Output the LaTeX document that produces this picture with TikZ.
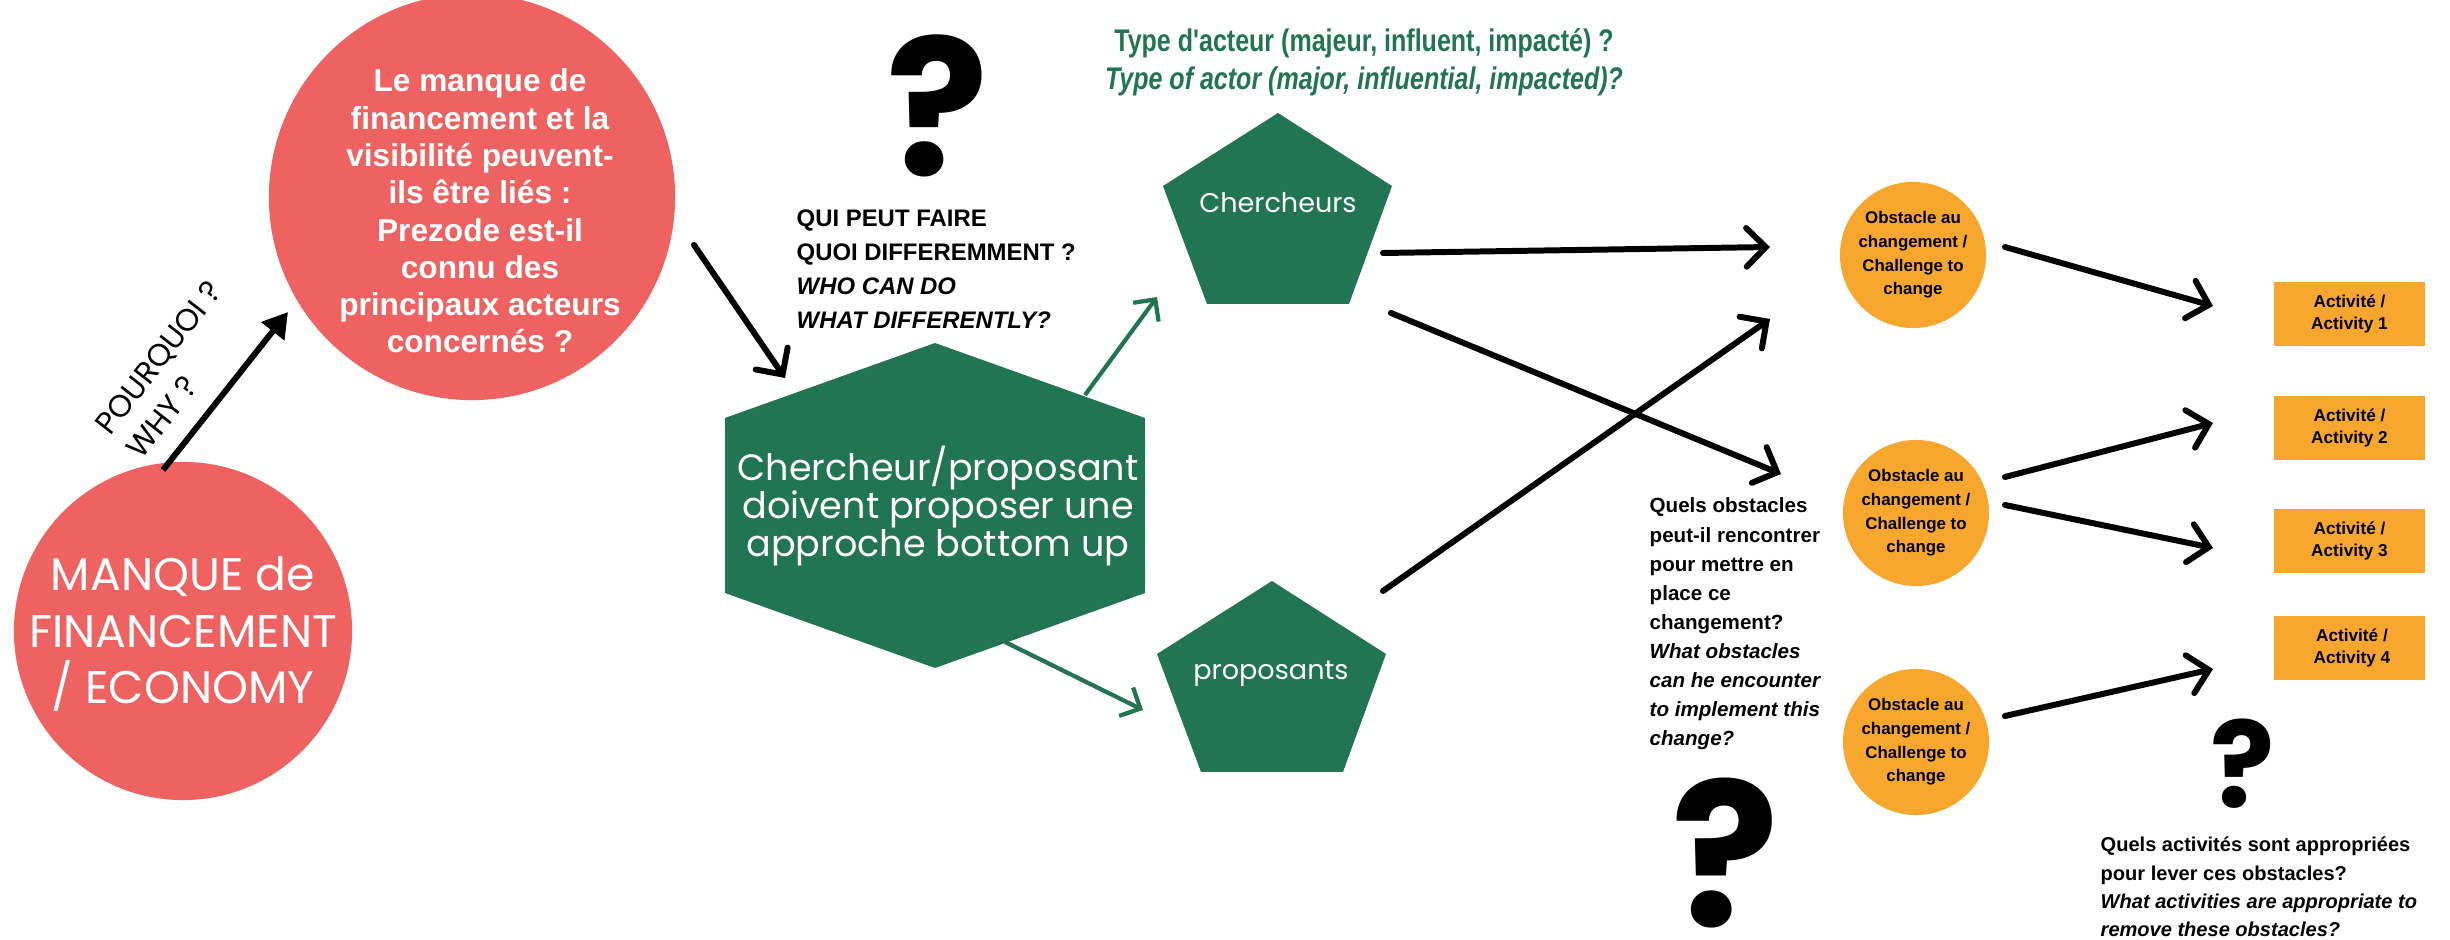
\documentclass[tikz,border=0pt]{standalone}
\usepackage{fontspec}
\setmainfont{Liberation Sans}
\newfontfamily\gothic{Poppins}
\newfontfamily\narrowfont[FakeStretch=0.8]{Liberation Sans}
\usetikzlibrary{arrows.meta}
\definecolor{cred}{RGB}{238,98,98}
\definecolor{cgreen}{RGB}{33,117,82}
\definecolor{corange}{RGB}{247,166,46}
\newcommand\cblock[2]{\vtop{\baselineskip=#1\lineskiplimit=-100pt\lineskip=0pt\halign{\hfil##\hfil\cr#2\crcr}}}
\newcommand\lblock[2]{\vtop{\baselineskip=#1\lineskiplimit=-100pt\lineskip=0pt\halign{##\hfil\cr#2\crcr}}}
\begin{document}
\begin{tikzpicture}[x=0.01cm,y=-0.01cm,
  blackarrow/.style={line width=1.7pt,line cap=round,-{Straight Barb[length=5.5pt,width=11pt,line cap=round]}},
  greenarrow/.style={line width=1.2pt,draw=cgreen,-{Straight Barb[length=4.5pt,width=9pt]}},
  whyarrow/.style={line width=1.7pt,-{Triangle[length=7pt,width=8pt]}},
  obst/.style={circle,fill=corange,minimum size=1.46cm,inner sep=0pt,font=\bfseries\fontsize{4.8}{6.7}\selectfont},
  actbox/.style={rectangle,fill=corange,minimum width=1.51cm,minimum height=0.64cm,inner sep=0pt,font=\bfseries\fontsize{4.9}{6.5}\selectfont},
  qmark/.style={inner sep=0pt,font=\gothic\bfseries\fontsize{#1}{#1}\selectfont},
  gtext/.style={text=white,inner sep=0pt,font=\gothic\fontsize{#1}{#1}\selectfont}
]
\useasboundingbox (0,0) rectangle (2450,940);

% red circles
\node[circle,fill=cred,minimum size=4.06cm,inner sep=0pt] (lm) at (472,197) {};
\node[anchor=base,text=white,inner sep=0pt,font=\bfseries\fontsize{9}{10.6}\selectfont] (lmt) at (480,92)
  {\cblock{10.6pt}{Le manque de\cr financement et la\cr visibilité peuvent-\cr ils être liés :\cr Prezode est-il\cr connu des\cr principaux acteurs\cr concernés ?}};
\node[circle,fill=cred,minimum size=3.38cm,inner sep=0pt] (mf) at (183,631) {};
\node[anchor=base,gtext=13] (mft) at (183,591) {\cblock{16pt}{MANQUE de\cr FINANCEMENT\cr / ECONOMY}};

% why arrow and label
\coordinate (w1) at (163,470);
\coordinate (w2) at (288,312);
\draw[whyarrow] (w1) -- (w2);
\node[anchor=base west,inner sep=0pt,rotate=52,font=\gothic\fontsize{8.8}{11.3}\selectfont] (why) at (110,437)
  {\lblock{11.3pt}{POURQUOI ?\cr WHY ?}};

% arrow to hexagon
\coordinate (h1) at (694,245);
\coordinate (h2) at (785,378);
\draw[blackarrow] (h1) -- (h2);

% hexagon
\fill[cgreen] (935,343) -- (1145,418) -- (1145,593) -- (935,668) -- (725,593) -- (725,418) -- cycle;
\node[anchor=base,gtext=10.4] (hex) at (938,481) {\cblock{10.7pt}{Chercheur/proposant\cr doivent proposer une\cr approche bottom up}};

% question text
\node[anchor=base west,inner sep=0pt,font=\bfseries\fontsize{6.8}{9.6}\selectfont] (qui) at (796,227)
  {\lblock{9.6pt}{QUI PEUT FAIRE\cr QUOI DIFFEREMMENT ?\cr \itshape WHO CAN DO\cr \itshape WHAT DIFFERENTLY?}};

% question marks
\node[qmark=54] (q1) at (938,106) {?};
\node[qmark=57] (q2) at (1725,853) {?};
\node[qmark=34] (q3) at (2243,764) {?};

% type d'acteur
\node[anchor=base,inner sep=0pt,text=cgreen,font=\narrowfont\bfseries\fontsize{8.9}{10.6}\selectfont] (typ) at (1364,52)
  {\cblock{10.6pt}{Type d'acteur (majeur, influent, impacté) ?\cr \itshape Type of actor (major, influential, impacted)?}};

% pentagons
\fill[cgreen] (1278,113) -- (1392,186) -- (1349,304) -- (1207,304) -- (1163,186) -- cycle;
\node[anchor=base,gtext=7.7] (ch) at (1278,213) {Chercheurs};
\fill[cgreen] (1272,581) -- (1386,654) -- (1343,772) -- (1201,772) -- (1157,654) -- cycle;
\node[anchor=base,gtext=7.7] (pr) at (1271,680) {proposants};

% green arrows
\coordinate (g1a) at (1085,395);
\coordinate (g1b) at (1157,297);
\coordinate (g2a) at (1005,642);
\coordinate (g2b) at (1143,710);
\draw[greenarrow] (g1a) -- (g1b);
\draw[greenarrow] (g2a) -- (g2b);

% obstacles
\node[obst] (ob1) at (1913,255) {\cblock{6.7pt}{Obstacle au\cr changement /\cr Challenge to\cr change}};
\node[obst] (ob2) at (1916,513) {\cblock{6.7pt}{Obstacle au\cr changement /\cr Challenge to\cr change}};
\node[obst] (ob3) at (1916,742) {\cblock{6.7pt}{Obstacle au\cr changement /\cr Challenge to\cr change}};

% activities
\node[actbox] (a1) at (2349.5,314) {\cblock{6.5pt}{Activité /\cr Activity 1}};
\node[actbox] (a2) at (2349.5,428) {\cblock{6.5pt}{Activité /\cr Activity 2}};
\node[actbox] (a3) at (2349.5,541) {\cblock{6.5pt}{Activité /\cr Activity 3}};
\node[actbox] (a4) at (2349.5,648) {\hspace*{1.4pt}\cblock{6.5pt}{Activité /\cr Activity 4}};

% black arrows
\coordinate (c1s) at (1383,253); \coordinate (c1e) at (1770,247);
\coordinate (c2s) at (1391,313); \coordinate (c2e) at (1781,474);
\coordinate (p1s) at (1383,591); \coordinate (p1e) at (1770,319);
\coordinate (o1s) at (2005,247); \coordinate (o1e) at (2213,306);
\coordinate (o2s) at (2005,477); \coordinate (o2e) at (2213,423);
\coordinate (o3s) at (2005,505); \coordinate (o3e) at (2213,548);
\coordinate (o4s) at (2005,716); \coordinate (o4e) at (2213,669);
\draw[blackarrow] (c1s) -- (c1e);
\draw[blackarrow] (c2s) -- (c2e);
\draw[blackarrow] (p1s) -- (p1e);
\draw[blackarrow] (o1s) -- (o1e);
\draw[blackarrow] (o2s) -- (o2e);
\draw[blackarrow] (o3s) -- (o3e);
\draw[blackarrow] (o4s) -- (o4e);

% side questions
\node[anchor=base west,inner sep=0pt,font=\bfseries\fontsize{5.85}{8.25}\selectfont] (qobs) at (1649,513)
  {\lblock{8.25pt}{Quels obstacles\cr peut-il rencontrer\cr pour mettre en\cr place ce\cr changement?\cr \itshape What obstacles\cr \itshape can he encounter\cr \itshape to implement this\cr \itshape change?}};
\node[anchor=base west,inner sep=0pt,font=\bfseries\fontsize{5.7}{8}\selectfont] (qact) at (2100,852)
  {\lblock{8pt}{Quels activités sont appropriées\cr pour lever ces obstacles?\cr \itshape What activities are appropriate to\cr \itshape remove these obstacles?}};
\end{tikzpicture}
\end{document}
